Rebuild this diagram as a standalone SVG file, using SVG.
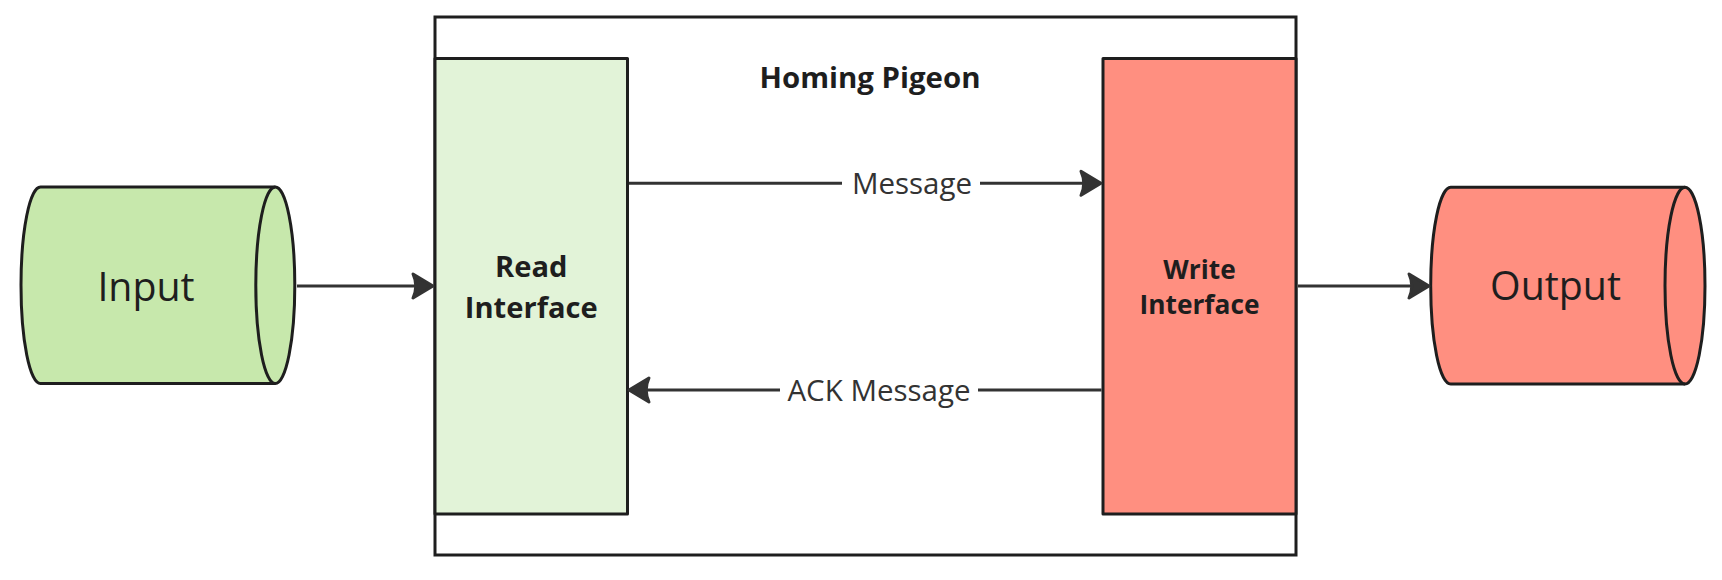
<svg xmlns="http://www.w3.org/2000/svg" width="1722" height="580" viewBox="0 0 1722 580">
  <defs>
    <marker id="arrow" markerUnits="userSpaceOnUse" viewBox="-25 -16 28 32" markerWidth="28" markerHeight="32" refX="-10" refY="0" orient="auto">
      <path d="M0,0 L-20,-12 Q-14.5,0 -20,12 Z" fill="#333333" stroke="#333333" stroke-width="3" stroke-linejoin="round"/>
    </marker>
  </defs>
  <style>
    .frame { fill: #ffffff; stroke: #1e1e1e; stroke-width: 3; }
    .shape { stroke: #1e1e1e; stroke-width: 3; stroke-linejoin: round; }
    .green { fill: #c7e8ac; }
    .lightgreen { fill: #e2f3d8; }
    .red { fill: #ff8f80; }
    .edge { fill: none; stroke: #333333; stroke-width: 3; }
    .lbg { fill: #ffffff; }
    text { font-family: "Open Sans", "Noto Sans", "Liberation Sans", sans-serif; fill: #1e1e1e; text-anchor: middle; }
    .big { font-size: 39.3px; }
    .lbl { font-size: 29.5px; fill: #333333; }
    .bold { font-weight: 700; }
  </style>
  <rect width="1722" height="580" fill="#ffffff"/>

  <g id="homing-pigeon">
    <rect class="frame" x="435" y="17" width="861" height="538"/>
    <text class="bold" x="870" y="88" font-size="29.4">Homing Pigeon</text>
  </g>

  <g id="read-interface">
    <rect class="shape lightgreen" x="435" y="58.5" width="192.5" height="455.5"/>
    <text class="bold" x="531.25" y="277" font-size="29.1">Read</text>
    <text class="bold" x="531.25" y="317.5" font-size="29.1">Interface</text>
  </g>

  <g id="write-interface">
    <rect class="shape red" x="1103" y="58.5" width="193" height="455.5"/>
    <text class="bold" x="1199.5" y="278.5" font-size="26.3">Write</text>
    <text class="bold" x="1199.5" y="313.5" font-size="26.3">Interface</text>
  </g>

  <g id="input">
    <path class="shape green" d="M40.5,187 L275.3,187 A19.5,98.25 0 0 1 275.3,383.5 L40.5,383.5 A19.5,98.25 0 0 1 40.5,187 Z"/>
    <path class="shape" fill="none" d="M275.3,187 A19.5,98.25 0 0 0 275.3,383.5"/>
    <text class="big" x="146" y="300.5" font-weight="400">Input</text>
  </g>

  <g id="output">
    <path class="shape red" d="M1450.7,187.3 L1685,187.3 A20,98.35 0 0 1 1685,384 L1450.7,384 A20,98.35 0 0 1 1450.7,187.3 Z"/>
    <path class="shape" fill="none" d="M1685,187.3 A20,98.35 0 0 0 1685,384"/>
    <text class="big" x="1555.5" y="300" font-weight="400">Output</text>
  </g>

  <g id="connectors">
    <line class="edge" x1="297" y1="286" x2="423" y2="286" marker-end="url(#arrow)"/>
    <line class="edge" x1="629" y1="183.3" x2="1091" y2="183.3" marker-end="url(#arrow)"/>
    <line class="edge" x1="1101.5" y1="390" x2="639" y2="390" marker-end="url(#arrow)"/>
    <line class="edge" x1="1298" y1="286" x2="1419" y2="286" marker-end="url(#arrow)"/>
    <rect class="lbg" x="842" y="165" width="138" height="38"/>
    <text class="lbl" x="912" y="194.3">Message</text>
    <rect class="lbg" x="780" y="372" width="198" height="38"/>
    <text class="lbl" x="879" y="400.7">ACK Message</text>
  </g>
</svg>
